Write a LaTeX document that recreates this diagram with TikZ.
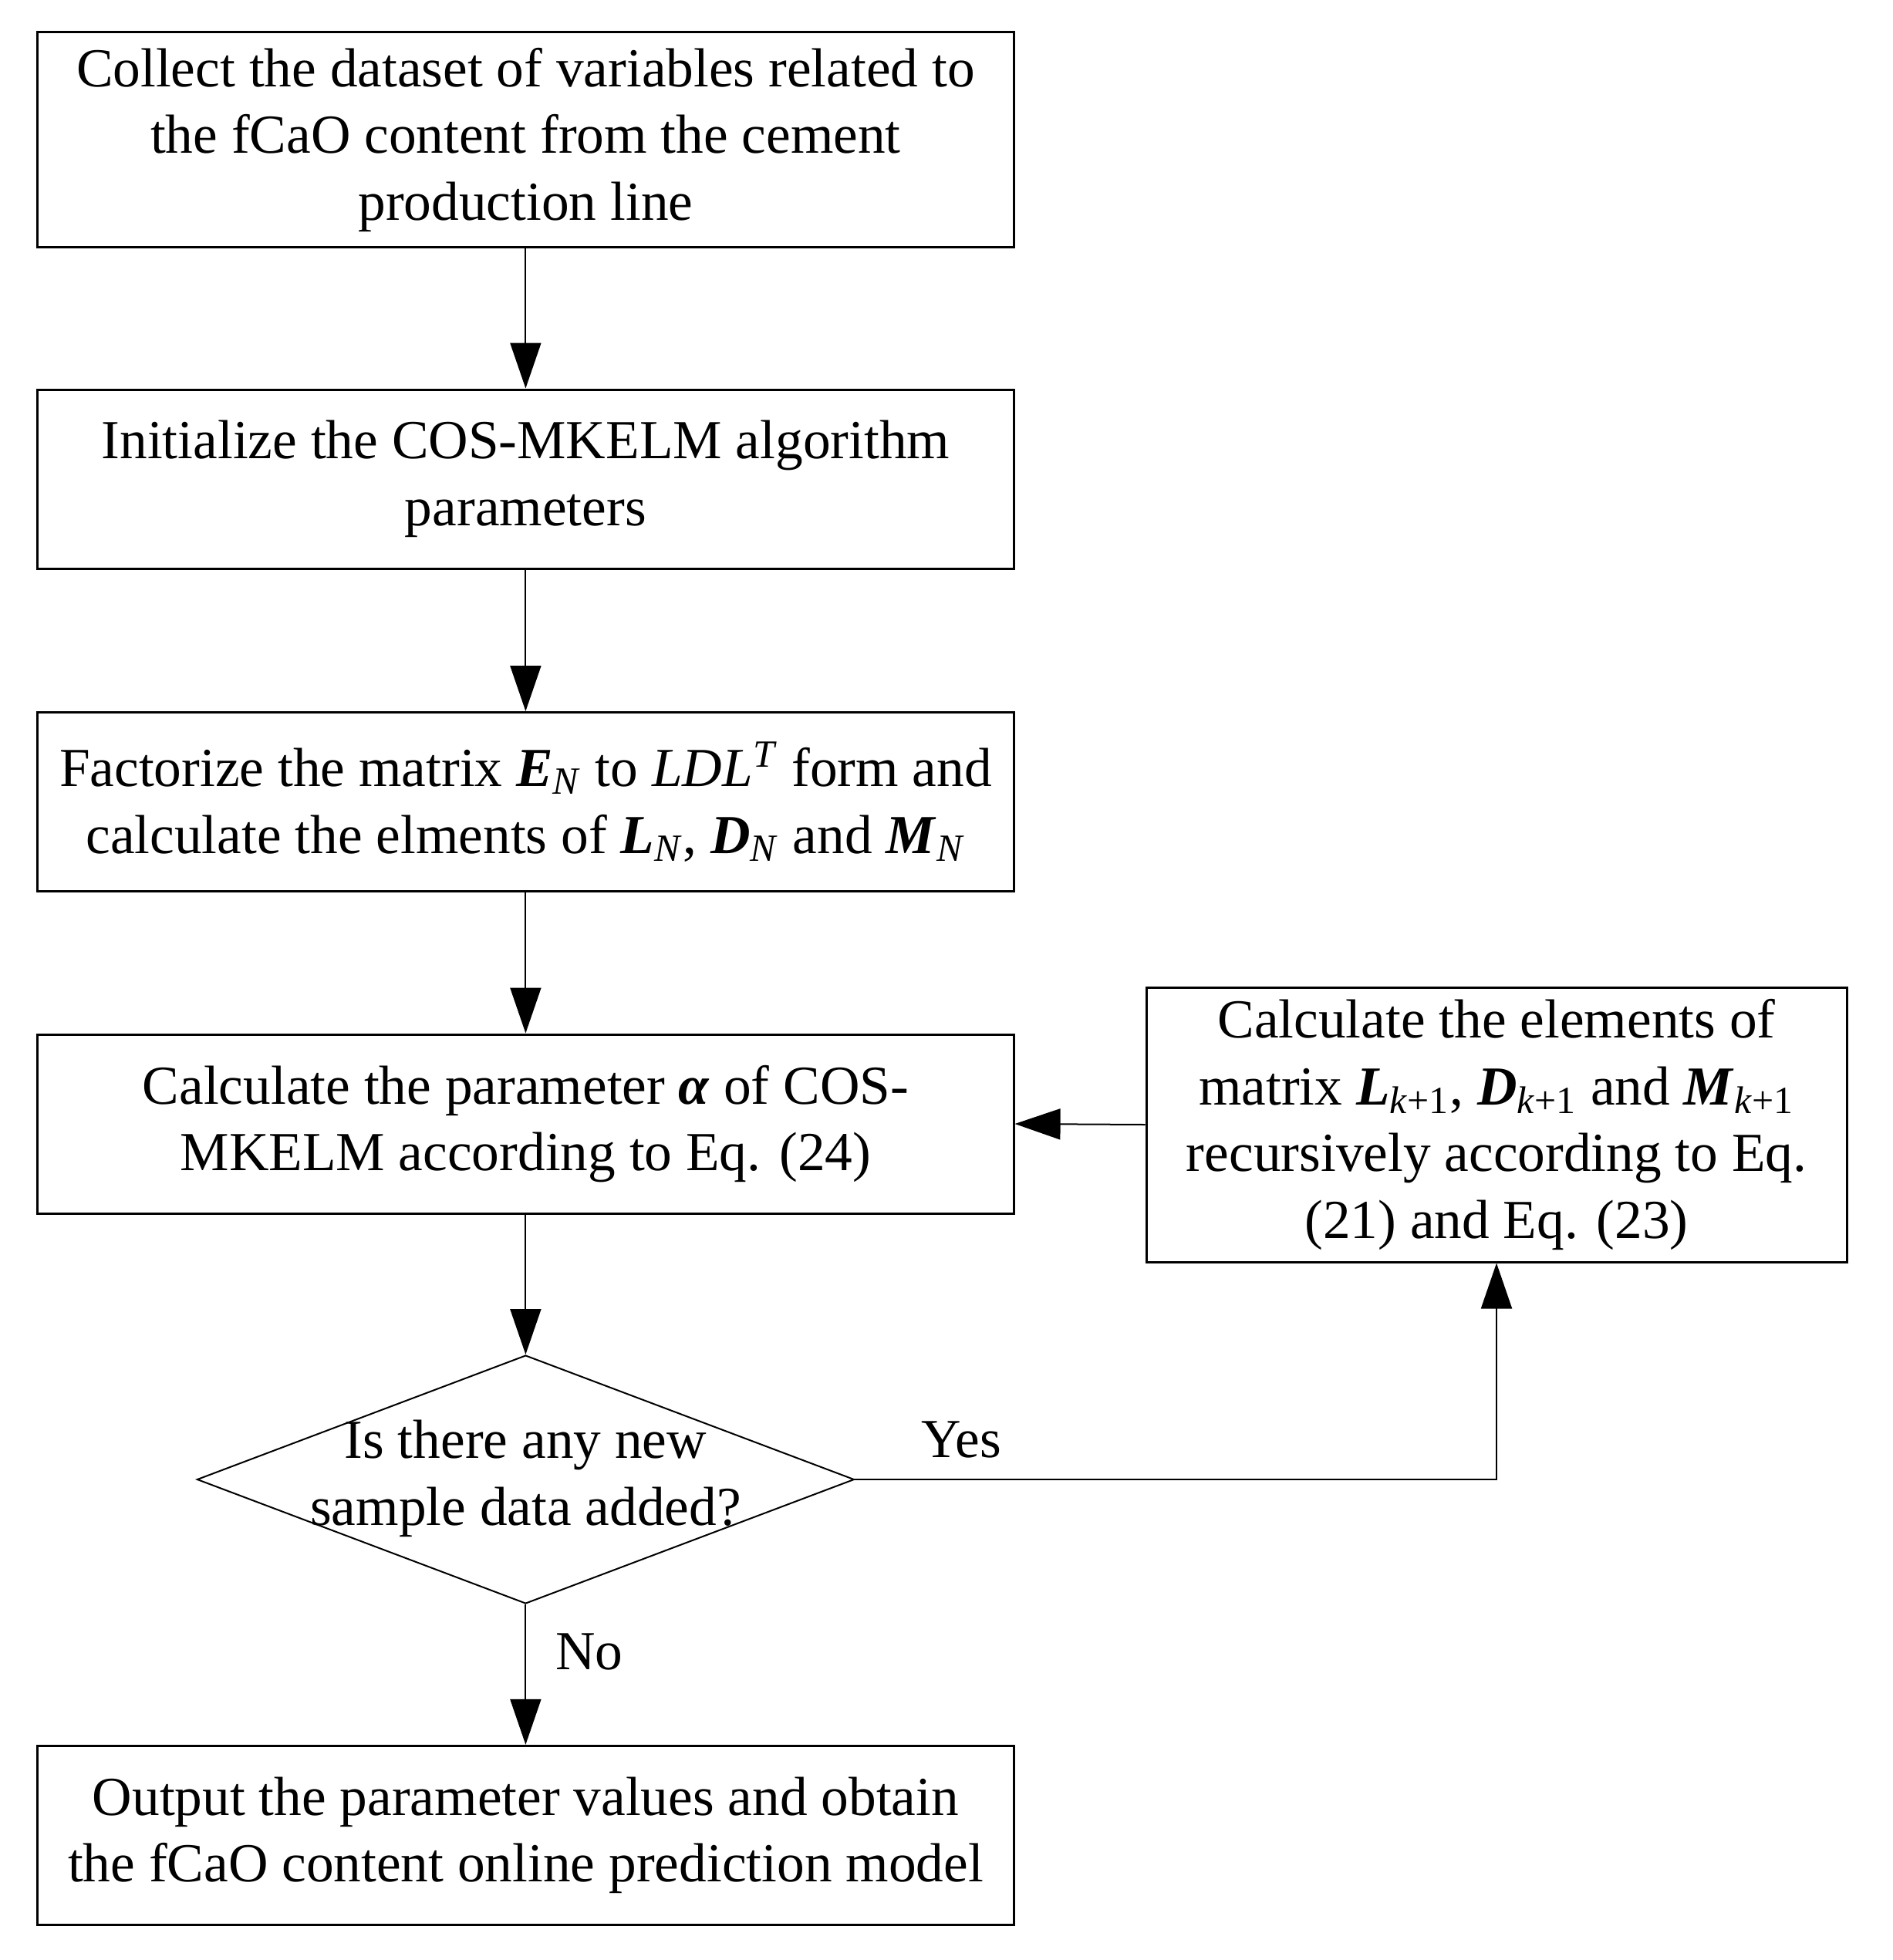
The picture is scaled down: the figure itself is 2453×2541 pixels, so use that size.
\documentclass[tikz,border=0pt]{standalone}
\usepackage{amsmath}
\usepackage{fontspec}
\setmainfont{Liberation Serif}
\usetikzlibrary{arrows.meta,shapes.geometric}
\newcommand{\bi}[1]{\textbf{\textit{#1}}}
\newcommand{\sbs}[1]{${}_{\text{#1}}$}
\begin{document}
\begin{tikzpicture}[x=0.3pt,y=-0.3pt,
  every node/.style={font=\fontsize{21.4pt}{26pt}\selectfont},
  stepbox/.style={draw,line width=0.9pt,rectangle,align=center,inner sep=0pt,
    minimum width=379.6pt,minimum height=69.6pt},
  sidebox/.style={draw,line width=0.9pt,rectangle,align=center,inner sep=0pt,
    minimum width=272.4pt,minimum height=106.8pt},
  decision/.style={draw,line width=0.6pt,diamond,inner sep=0pt,
    minimum width=255.6pt,minimum height=96.6pt},
  plain/.style={align=center,inner sep=0pt},
  arr/.style={line width=0.6pt,-{Triangle[length=17.7pt,width=12pt]}},
  conn/.style={line width=0.6pt}]
\useasboundingbox (0,0) rectangle (2453,2541);
\node[stepbox,minimum height=83.7pt] (b1) at (681.4,181.2)
  {Collect the dataset of variables related to\\the fCaO content from the cement\\production line};
\node[stepbox] (b2) at (681.4,621)
  {Initialize the COS-MKELM algorithm\\parameters};
\node[stepbox] (b3) at (681.4,1039.5)
  {Factorize the matrix \bi{E}\sbs{\textit{N}} to \textit{LDL}$^{\text{\textit{T}}}$ form and\\calculate the elments of \bi{L}\sbs{\textit{N}}, \bi{D}\sbs{\textit{N}} and \bi{M}\sbs{\textit{N}}};
\node[stepbox] (b4) at (681.4,1457)
  {Calculate the parameter \bi{α} of COS-\\MKELM according to Eq. (24)};
\node[decision] (dec) at (681.4,1918) {};
\node[plain] (dectext) at (681.4,1917)
  {Is there any new\\sample data added?};
\node[stepbox] (b5) at (681.4,2379.3)
  {Output the parameter values and obtain\\the fCaO content online prediction model};
\node[sidebox] (rb) at (1940,1458)
  {Calculate the elements of\\matrix \bi{L}\sbs{\textit{k}+1}, \bi{D}\sbs{\textit{k}+1} and \bi{M}\sbs{\textit{k}+1}\\recursively according to Eq.\\(21) and Eq. (23)};
\node[plain] (yes) at (1246,1866) {Yes};
\node[plain] (no) at (764,2141) {No};
\draw[arr] (b1) -- (b2);
\draw[arr] (b2) -- (b3);
\draw[arr] (b3) -- (b4);
\draw[arr] (b4) -- (dec.north);
\draw[arr] (dec.south) -- (b5);
\draw[arr] (dec.east) -| (rb.south);
\draw[arr] (rb.west) -- (b4.east);
\end{tikzpicture}
\end{document}
